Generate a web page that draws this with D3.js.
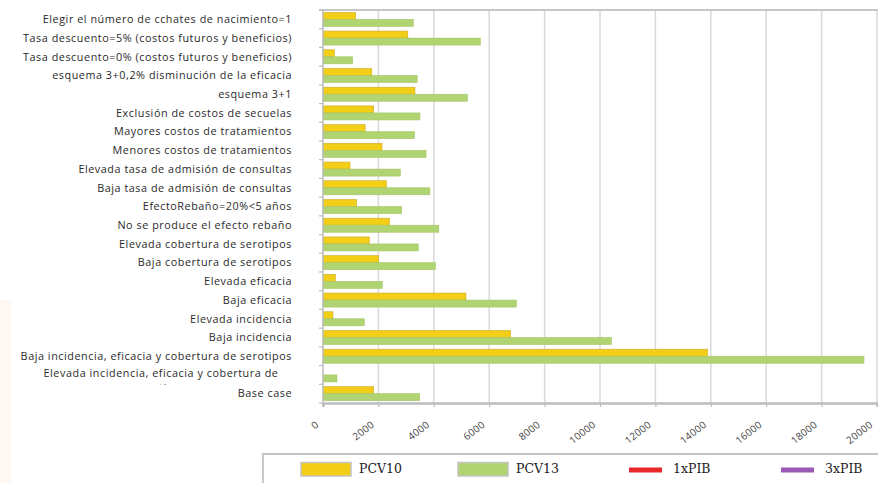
<!DOCTYPE html>
<html>
<head>
<meta charset="utf-8">
<script src="https://cdn.jsdelivr.net/npm/d3@7"></script>
<style>
  html, body { margin: 0; padding: 0; background: #fff; }
  svg { display: block; }
</style>
</head>
<body>
<svg id="chart" width="878" height="483"></svg>
<script>
// Sensitivity analysis scenarios (top to bottom)
const categories = [
  "Elegir el número de cchates de nacimiento=1",
  "Tasa descuento=5% (costos futuros y beneficios)",
  "Tasa descuento=0% (costos futuros y beneficios)",
  "esquema 3+0,2% disminución de la eficacia",
  "esquema 3+1",
  "Exclusión de costos de secuelas",
  "Mayores costos de tratamientos",
  "Menores costos de tratamientos",
  "Elevada tasa de admisión de consultas",
  "Baja tasa de admisión de consultas",
  "EfectoRebaño=20%<5 años",
  "No se produce el efecto rebaño",
  "Elevada cobertura de serotipos",
  "Baja cobertura de serotipos",
  "Elevada eficacia",
  "Baja eficacia",
  "Elevada incidencia",
  "Baja incidencia",
  "Baja incidencia, eficacia y cobertura de serotipos",
  "Elevada incidencia, eficacia y cobertura de serotipos",
  "Base case"
];

const pcv10 = [1180, 3060, 410, 1760, 3320, 1830, 1520, 2130, 975, 2290,
               1215, 2400, 1670, 2010, 445, 5160, 360, 6775, 13890, 0, 1830];
const pcv13 = [3260, 5680, 1070, 3400, 5210, 3500, 3300, 3720, 2790, 3860,
               2840, 4180, 3440, 4060, 2140, 6980, 1490, 10410, 19530, 505, 3490];

const xTicks = [0, 2000, 4000, 6000, 8000, 10000, 12000, 14000, 16000, 18000, 20000];

const seriesNames = ["PCV10", "PCV13"];
const legendItems = [
  { name: "PCV10", kind: "box", color: "#f2cf16" },
  { name: "PCV13", kind: "box", color: "#b1d473" },
  { name: "1xPIB", kind: "line", color: "#e8282a" },
  { name: "3xPIB", kind: "line", color: "#9b59b6" }
];

const svg = d3.select("#chart");
const labelFont = "'Open Sans', Lato, sans-serif";

// faint tint on the left margin
svg.append("rect").attr("x", 0).attr("y", 300).attr("width", 11).attr("height", 183)
  .attr("fill", "#fdf9f2");

const plot = { left: 323, right: 877, top: 10, bottom: 403 };

const x = d3.scaleLinear().domain([0, 20000]).range([plot.left, plot.right]);
const y = d3.scaleBand().domain(categories).range([plot.top, plot.bottom])
  .paddingInner(0.25).paddingOuter(0.125);
const ySub = d3.scaleBand().domain(seriesNames).range([0, y.bandwidth()]);
const step = y.step();

// vertical gridlines
svg.append("g").selectAll("line").data(xTicks.slice(1)).join("line")
  .attr("x1", d => x(d)).attr("x2", d => x(d))
  .attr("y1", plot.top).attr("y2", plot.bottom)
  .attr("stroke", "#d9d9d9").attr("stroke-width", 1.5);

// top frame line
svg.append("line").attr("x1", plot.left - 4).attr("x2", 878)
  .attr("y1", plot.top).attr("y2", plot.top)
  .attr("stroke", "#c6c6c6").attr("stroke-width", 2);

// bars
const colors = { PCV10: "#f2cf16", PCV13: "#b1d473" };
const strokes = { PCV10: "#cfa92a", PCV13: "#a3c765" };
const rows = categories.map((c, i) => ({ c, PCV10: pcv10[i], PCV13: pcv13[i] }));
const gBars = svg.append("g");
rows.forEach(r => {
  seriesNames.forEach(s => {
    if (r[s] <= 0) return;
    gBars.append("rect")
      .attr("x", x(0))
      .attr("y", y(r.c) + ySub(s))
      .attr("width", x(r[s]) - x(0))
      .attr("height", ySub.bandwidth())
      .attr("fill", colors[s])
      .attr("stroke", strokes[s])
      .attr("stroke-width", 0.6);
  });
});

// left axis line and band ticks
svg.append("line").attr("x1", plot.left).attr("x2", plot.left)
  .attr("y1", plot.top).attr("y2", plot.bottom + 3)
  .attr("stroke", "#bdbdbd").attr("stroke-width", 1.5);
svg.append("g").selectAll("line").data(d3.range(categories.length + 1)).join("line")
  .attr("x1", plot.left - 4).attr("x2", plot.left)
  .attr("y1", i => plot.top + i * step).attr("y2", i => plot.top + i * step)
  .attr("stroke", "#bdbdbd").attr("stroke-width", 1.2);

// bottom axis
const xAxis = d3.axisBottom(x).tickValues(xTicks).tickSize(4).tickFormat(d => String(d));
const gx = svg.append("g").attr("transform", `translate(0,${plot.bottom})`).call(xAxis);
gx.select(".domain").attr("stroke", "#bdbdbd").attr("stroke-width", 2.5);
gx.selectAll(".tick line").attr("stroke", "#bdbdbd").attr("stroke-width", 1.2);
gx.selectAll(".tick text")
  .attr("font-family", labelFont).attr("font-size", 10).attr("fill", "#444")
  .attr("letter-spacing", 0.3)
  .attr("text-anchor", "end")
  .attr("dy", null).attr("y", null)
  .attr("transform", "translate(-4,23) rotate(-38)");

// category labels
const labelX = 292;
const gLab = svg.append("g")
  .attr("font-family", labelFont).attr("font-size", 10.8).attr("fill", "#2a2a2a")
  .attr("letter-spacing", 0.55)
  .attr("text-anchor", "end");
const wrapped = "Elevada incidencia, eficacia y cobertura de serotipos";
// the wrapped label's second line is cut off at the band edge
svg.append("clipPath").attr("id", "labclip").append("rect")
  .attr("x", 0).attr("y", 0).attr("width", 320).attr("height", y(wrapped) + y.bandwidth() + 3);
categories.forEach(c => {
  const cy = y(c) + y.bandwidth() / 2;
  if (c === wrapped) {
    gLab.append("text").attr("text-anchor", "middle")
      .attr("x", 161).attr("y", cy + 2).text("Elevada incidencia, eficacia y cobertura de");
    gLab.append("text").attr("clip-path", "url(#labclip)").attr("text-anchor", "middle")
      .attr("x", 161).attr("y", cy + 17).text("serotipos");
  } else {
    gLab.append("text").attr("x", labelX).attr("y", cy).attr("dy", "0.35em").text(c);
  }
});

// legend
svg.append("path")
  .attr("d", "M263,483 V454 H878")
  .attr("fill", "none").attr("stroke", "#c2c2c2").attr("stroke-width", 1.8);
const legX = [301, 458, 629, 781];
const gLeg = svg.append("g");
legendItems.forEach((it, i) => {
  const lx = legX[i];
  if (it.kind === "box") {
    gLeg.append("rect").attr("x", lx).attr("y", 462.5).attr("width", 50).attr("height", 13.5)
      .attr("fill", it.color).attr("stroke", "#c4c4c4").attr("stroke-width", 1.5);
    gLeg.append("text").attr("x", lx + 58).attr("y", 473)
      .attr("font-family", "'DejaVu Serif', serif").attr("font-size", 12.5).attr("fill", "#222")
      .text(it.name);
  } else {
    gLeg.append("rect").attr("x", lx).attr("y", 467.5).attr("width", 33).attr("height", 5)
      .attr("fill", it.color);
    gLeg.append("text").attr("x", lx + 44).attr("y", 473)
      .attr("font-family", "'DejaVu Serif', serif").attr("font-size", 12.5).attr("fill", "#222")
      .text(it.name);
  }
});
</script>
</body>
</html>
